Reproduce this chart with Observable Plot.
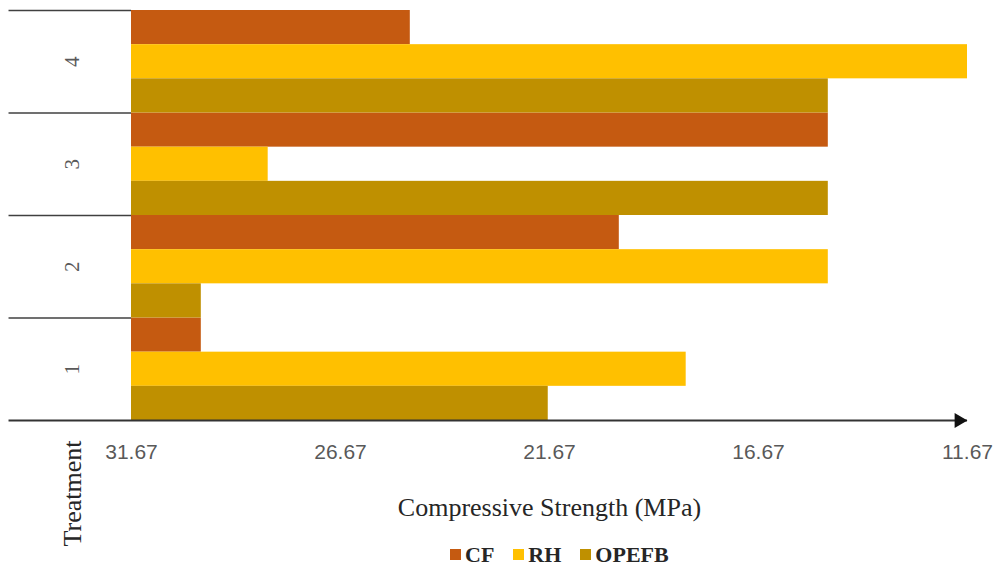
<!DOCTYPE html>
<html>
<head>
<meta charset="utf-8">
<script src="https://cdn.jsdelivr.net/npm/d3@7"></script>
<script src="https://cdn.jsdelivr.net/npm/@observablehq/plot@0.6"></script>
<style>
  html, body { margin: 0; padding: 0; background: #fff; }
  #chart { width: 998px; }
  g[aria-label="x-axis label"] text {
    font-family: "Liberation Serif", serif;
    font-size: 26px;
    fill: #262626;
  }
  .legend-row { padding-left: 450px; margin-top: -14px; position: relative; }
  .lg-swatches {
    font-family: "Liberation Serif", serif;
    font-size: 22px;
    font-weight: bold;
    color: #262626;
    margin: 0;
  }
  .lg-swatch { margin-right: 19px; }
  .lg-swatch > svg { margin-right: 4px; }
</style>
</head>
<body>
<div id="chart"></div>
<script>
// Compressive strength by treatment for three fibre types (MPa)
const treatments = ["1", "2", "3", "4"];
const series = ["CF", "RH", "OPEFB"];
const colors = ["#C55A11", "#FFC000", "#BF9000"];
const cf    = [30.0, 20.0, 15.0, 25.0];
const rh    = [18.4, 15.0, 28.4, 11.67];
const opefb = [21.7, 30.0, 15.0, 15.0];
const xTicks = [31.67, 26.67, 21.67, 16.67, 11.67];

const base = 31.67;      // bars grow from the left end of the reversed axis
const axisEnd = 11.67;
const axisStart = 34.6;  // axis line and group dividers reach into the left margin

// Each treatment takes one unit band; CF on top, then RH, then OPEFB.
const values = {CF: cf, RH: rh, OPEFB: opefb};
const bars = [];
treatments.forEach((t, i) => {
  series.forEach((s, j) => {
    bars.push({
      treatment: t,
      series: s,
      value: values[s][i],
      y1: i + (2 - j) / 3,
      y2: i + (3 - j) / 3
    });
  });
});
const dividers = treatments.map((t, i) => ({y: i + 1}));

const chart = Plot.plot({
  width: 998,
  height: 552,
  marginTop: 10,
  marginBottom: 132,
  marginLeft: 131,
  marginRight: 31,
  x: {domain: [base, axisEnd], range: [131, 967]},
  y: {domain: [0, treatments.length]},
  color: {domain: series, range: colors},
  marks: [
    Plot.rect(bars, {x1: base, x2: "value", y1: "y1", y2: "y2", fill: "series"}),
    Plot.ruleY(dividers, {y: "y", x1: axisStart, x2: base, stroke: "#404040", strokeWidth: 1.5}),
    Plot.ruleY([0], {x1: axisStart, x2: axisEnd, stroke: "#333333", strokeWidth: 2}),
    Plot.dot([axisEnd], {x: d => d, y: 0, symbol: "triangle", r: 5.5, rotate: 90, fill: "#111111", stroke: "none", dx: -8.6}),
    Plot.axisX({
      ticks: xTicks,
      tickFormat: d => d.toFixed(2),
      tickSize: 0,
      tickPadding: 24,
      fontSize: 21,
      fontFamily: "Liberation Sans, Arial, sans-serif",
      fill: "#595959",
      label: "Compressive Strength (MPa)",
      labelAnchor: "center",
      labelArrow: "none",
      labelOffset: 95
    }),
    Plot.axisY({
      ticks: treatments.map((t, i) => i + 0.5),
      tickFormat: d => treatments[Math.floor(d)],
      tickSize: 0,
      tickPadding: 59,
      tickRotate: -90,
      textAnchor: "middle",
      lineAnchor: "middle",
      fontSize: 21,
      fontFamily: "Liberation Serif, serif",
      fill: "#595959",
      label: null
    }),
    Plot.text(["Treatment"], {
      frameAnchor: "bottom-left",
      text: d => d,
      textAnchor: "middle",
      lineAnchor: "middle",
      dx: -59,
      dy: 73,
      rotate: -90,
      fontSize: 26,
      fontFamily: "Liberation Serif, serif",
      fill: "#262626"
    })
  ]
});

document.getElementById("chart").appendChild(chart);

const legend = Plot.legend({
  color: {domain: series, range: colors},
  swatchSize: 11,
  className: "lg"
});
const row = document.createElement("div");
row.className = "legend-row";
row.appendChild(legend);
document.getElementById("chart").appendChild(row);
</script>
</body>
</html>
